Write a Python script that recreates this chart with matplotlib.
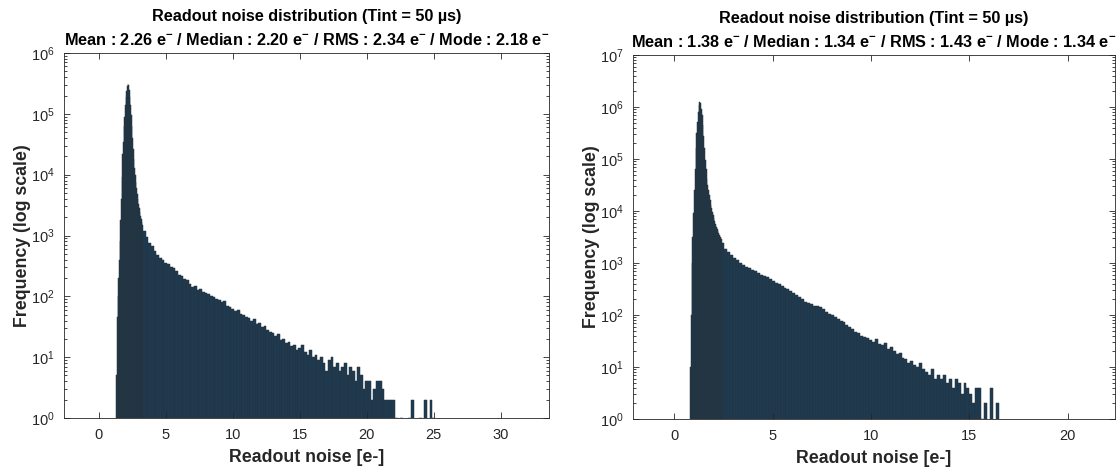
import numpy as np
import matplotlib
matplotlib.use("Agg")
import matplotlib.pyplot as plt
from matplotlib.ticker import FixedLocator, NullFormatter

plt.rcParams["font.family"] = ["Liberation Sans", "DejaVu Sans"]
plt.rcParams["mathtext.fontset"] = "custom"
plt.rcParams["mathtext.rm"] = "Liberation Sans"
plt.rcParams["mathtext.bf"] = "Liberation Sans:bold"

INK = "#262626"
BAR_FACE = "#1f3b51"
BAR_EDGE = "#26323b"

# left histogram: fine bins (0.05 e-) over the peak, then 0.2 e- bins for the tail
LEFT_PEAK_START = 1.3
LEFT_PEAK_WIDTH = 0.05
LEFT_PEAK = [
    5, 45, 100, 200, 400, 800, 1800, 4000, 9000, 22000,
    35000, 63000, 89000, 141000, 186000, 234000, 282000, 309000, 295000, 251000,
    190000, 141000, 95000, 63000, 40000, 26000, 18000, 13000, 10000, 7600,
    6000, 4800, 4000, 3300, 2800, 2400, 2100, 1850, 1650, 1500,
]
LEFT_TAIL_WIDTH = 0.2
LEFT_TAIL = [
    1200, 950, 760, 660, 550, 480, 430, 390, 350,
    335, 300, 290, 260, 225, 215, 190, 185, 160, 145, 150, 128, 132, 118,
    112, 108, 100, 98, 92, 86, 80, 84, 70, 66, 62, 58, 60, 52, 50, 46, 44,
    40, 42, 35, 36, 31, 33, 28, 26, 25, 22, 24, 19, 20, 17, 18, 15, 16, 13,
    14, 16, 12, 11, 13, 10, 11, 9, 10, 8, 6, 9, 10, 7, 8, 6, 7, 8, 5, 7, 6,
    4, 7, 5, 3, 4, 4, 2, 3, 4, 4, 3, 2, 2, 2, 2, 1, 0, 1, 0, 0, 1, 2, 0, 0,
    1, 0, 2, 0, 2, 1,
]

# right histogram: fine bins (0.04 e-) over the peak, then 0.15 e- bins for the tail
RIGHT_PEAK_START = 0.8
RIGHT_PEAK_WIDTH = 0.04
RIGHT_PEAK = [
    10, 100, 1000, 3200, 9000, 25000, 63000, 160000, 320000, 525000,
    800000, 1070000, 1260000, 1200000, 930000, 710000, 450000, 280000, 160000, 95000,
    63000, 42000, 32000, 25000, 20000, 16000, 13200, 11200, 9500, 8300,
    7200, 6300, 5600, 5000, 4600, 4200, 3800, 3500, 3200, 2900,
]
RIGHT_TAIL_WIDTH = 0.15
RIGHT_TAIL = [
    2400, 1900, 1600, 1400, 1250, 1120, 1000,
    920, 850, 790, 740, 690, 640, 600, 560, 530, 490, 450, 420, 390, 360,
    335, 310, 285, 260, 240, 220, 200, 180, 168, 160, 150, 148, 140, 130,
    115, 105, 100, 92, 85, 76, 72, 64, 60, 55, 48, 46, 40, 38, 36, 33, 30,
    34, 28, 26, 29, 22, 24, 20, 18, 19, 15, 14, 12, 13, 11, 10, 12, 9, 8, 7,
    9, 6, 7, 6, 7, 5, 6, 4, 6, 5, 3, 5, 4, 3, 2, 4, 4, 1, 2, 0, 4, 0, 2,
]

EM = r"e$^{\mathbf{-}}$"
PANELS = [
    {
        "peak": (LEFT_PEAK_START, LEFT_PEAK_WIDTH, LEFT_PEAK),
        "tail": (LEFT_TAIL_WIDTH, LEFT_TAIL),
        "stats": f"Mean : 2.26 {EM} / Median : 2.20 {EM} / RMS : 2.34 {EM} / Mode : 2.18 {EM}",
        "xlim": (-2.6, 33.6), "ydec": 6, "xticks": [0, 5, 10, 15, 20, 25, 30],
        "rect": [64 / 1120, 55 / 473, 485 / 1120, 365 / 473],
    },
    {
        "peak": (RIGHT_PEAK_START, RIGHT_PEAK_WIDTH, RIGHT_PEAK),
        "tail": (RIGHT_TAIL_WIDTH, RIGHT_TAIL),
        "stats": f"Mean : 1.38 {EM} / Median : 1.34 {EM} / RMS : 1.43 {EM} / Mode : 1.34 {EM}",
        "xlim": (-2.1, 22.4), "ydec": 7, "xticks": [0, 5, 10, 15, 20],
        "rect": [633 / 1120, 54 / 473, 482 / 1120, 364 / 473],
    },
]


def bin_edges(p):
    start, w_peak, peak = p["peak"]
    w_tail, tail = p["tail"]
    e_peak = start + w_peak * np.arange(len(peak) + 1)
    e_tail = e_peak[-1] + w_tail * np.arange(1, len(tail) + 1)
    return np.concatenate([e_peak, e_tail])


def draw_hist(ax, p):
    counts = np.array(p["peak"][2] + p["tail"][1], dtype=float)
    edges = bin_edges(p)
    centers = 0.5 * (edges[:-1] + edges[1:])
    ax.hist(centers, bins=edges, weights=counts, log=True,
            facecolor=BAR_FACE, edgecolor=BAR_EDGE, linewidth=0.35)
    ax.set_yscale("log")
    ax.set_ylim(1, 10.0 ** p["ydec"])
    ax.set_xlim(*p["xlim"])
    ax.set_xticks(p["xticks"])
    ax.yaxis.set_major_locator(FixedLocator(10.0 ** np.arange(0, p["ydec"] + 1)))
    minors = [m * 10.0 ** d for d in range(p["ydec"]) for m in range(2, 10)]
    ax.yaxis.set_minor_locator(FixedLocator(minors))
    ax.yaxis.set_minor_formatter(NullFormatter())
    ax.tick_params(which="both", direction="in", top=True, right=True,
                   colors=INK, labelcolor=INK, labelsize=10.5, width=0.6)
    ax.tick_params(which="major", length=4, pad=7)
    ax.tick_params(which="minor", length=2)
    for s in ax.spines.values():
        s.set_color(INK)
        s.set_linewidth(0.6)
    ax.set_xlabel("Readout noise [e-]", fontsize=12.8, fontweight="bold", color=INK, labelpad=5)
    ax.set_ylabel("Frequency (log scale)", fontsize=12.8, fontweight="bold", color=INK, labelpad=0)
    ax.text(0.5, 1.0 + 37 / 365, "Readout noise distribution (Tint = 50 \u00b5s)",
            transform=ax.transAxes, ha="center", va="center",
            fontsize=11.7, fontweight="bold", color="black")
    ax.text(0.5, 1.0 + 13 / 365, p["stats"], transform=ax.transAxes,
            ha="center", va="center", fontsize=11.7, fontweight="bold", color="black")


fig = plt.figure(figsize=(11.2, 4.73), dpi=100)
fig.patch.set_facecolor("white")
for p in PANELS:
    ax = fig.add_axes(p["rect"])
    draw_hist(ax, p)

fig.savefig("out.png", dpi=100, facecolor="white")
